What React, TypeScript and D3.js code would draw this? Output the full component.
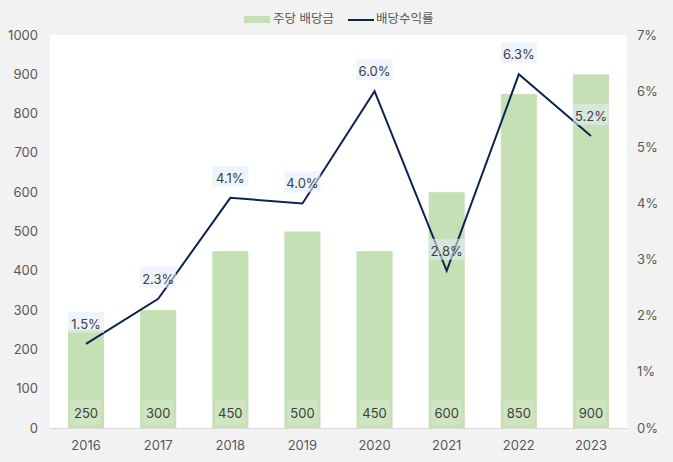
import React from "react";
import * as d3 from "d3";

const categories = ["2016", "2017", "2018", "2019", "2020", "2021", "2022", "2023"];
const dividends = [250, 300, 450, 500, 450, 600, 850, 900];
const yields = [1.5, 2.3, 4.1, 4.0, 6.0, 2.8, 6.3, 5.2];
const leftTicks = [0, 100, 200, 300, 400, 500, 600, 700, 800, 900, 1000];
const rightTicks = [0, 1, 2, 3, 4, 5, 6, 7];

const W = 673, H = 462;
const M = { left: 50, right: 627, top: 35, bottom: 428 };
const FONT = "Inter, 'Noto Sans CJK KR', sans-serif";

export default function App() {
  const x = d3.scaleBand<string>().domain(categories).range([M.left, M.right]).paddingInner(0.5).paddingOuter(0.25);
  const yL = d3.scaleLinear().domain([0, 1000]).range([M.bottom, M.top]);
  const yR = d3.scaleLinear().domain([0, 7]).range([M.bottom, M.top]);
  const cx = (c: string) => (x(c) as number) + x.bandwidth() / 2;
  const line = d3.line<number>().x((_, i) => cx(categories[i])).y((d) => yR(d));

  return (
    <svg width={W} height={H} style={{ position: "absolute", left: 0, top: 0, display: "block" }} fontFamily={FONT}>
      <rect x={0} y={0} width={W} height={H} fill="#f2f2f2" />
      <rect x={M.left} y={M.top} width={M.right - M.left} height={M.bottom - M.top} fill="#ffffff" />
      {/* legend */}
      <rect x={244} y={16} width={26} height={7} fill="#c5e0b4" />
      <text x={273} y={23} fontSize={12.5} fill="#595959">주당 배당금</text>
      <line x1={348} x2={374} y1={20} y2={20} stroke="#0d2451" strokeWidth={2} />
      <text x={376} y={23} fontSize={12.5} fill="#595959">배당수익률</text>
      {/* bars */}
      {dividends.map((v, i) => (
        <rect key={"b" + i} x={x(categories[i])} y={yL(v)} width={x.bandwidth()} height={M.bottom - yL(v)} fill="#c5e0b4" />
      ))}
      {/* axis line */}
      <line x1={M.left} x2={M.right} y1={M.bottom + 0.5} y2={M.bottom + 0.5} stroke="#d9d9d9" strokeWidth={1} />
      {/* bar labels */}
      {dividends.map((v, i) => (
        <g key={"bl" + i}>
          <rect x={cx(categories[i]) - 15} y={400} width={30} height={25} fill="rgba(255,255,255,0.18)" />
          <text x={cx(categories[i])} y={418} textAnchor="middle" fontSize={13} fill="#404040">{v}</text>
        </g>
      ))}
      {/* line */}
      <path d={line(yields) || ""} fill="none" stroke="#0d2451" strokeWidth={2} />
      {/* yield labels */}
      {yields.map((v, i) => {
        const px = cx(categories[i]);
        const py = yR(v) - 21;
        return (
          <g key={"yl" + i}>
            <rect x={px - 18} y={py - 11} width={36} height={21} fill="rgba(225,236,248,0.6)" />
            <text x={px} y={py + 6} textAnchor="middle" fontSize={13} fill="#404040">{v.toFixed(1)}%</text>
          </g>
        );
      })}
      {/* left ticks */}
      {leftTicks.map((t) => (
        <text key={"l" + t} x={38} y={yL(t) + 4.5} textAnchor="end" fontSize={13} fill="#595959">{t}</text>
      ))}
      {/* right ticks */}
      {rightTicks.map((t) => (
        <text key={"r" + t} x={637} y={yR(t) + 4.5} textAnchor="start" fontSize={13} fill="#595959">{t}%</text>
      ))}
      {/* x labels */}
      {categories.map((c) => (
        <text key={"x" + c} x={cx(c)} y={449.5} textAnchor="middle" fontSize={13} fill="#595959">{c}</text>
      ))}
    </svg>
  );
}
